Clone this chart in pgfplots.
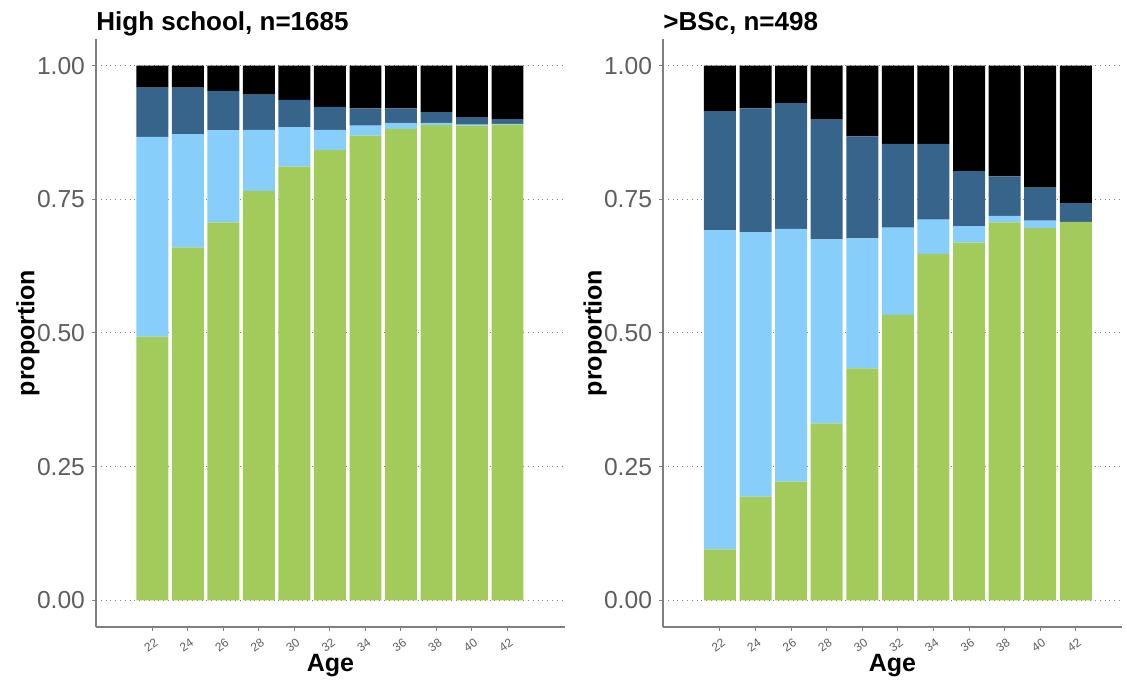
\documentclass[border=0pt]{standalone}
\usepackage{pgfplots}
\pgfplotsset{compat=1.18}
\usepackage{pgfplotstable}
\usepackage{fontspec}
\setmainfont{Liberation Sans}
\definecolor{cgreen}{HTML}{A2CB5C}
\definecolor{clblue}{HTML}{87CEFA}
\definecolor{cdblue}{HTML}{36648B}
\definecolor{caxis}{HTML}{7F7F7F}
\definecolor{clab}{HTML}{5E5E5E}

\pgfplotstableread{
age g lb db k
22 0.493 0.374 0.092 0.041
24 0.660 0.212 0.087 0.041
26 0.707 0.172 0.074 0.047
28 0.766 0.114 0.066 0.054
30 0.811 0.074 0.051 0.064
32 0.842 0.038 0.043 0.077
34 0.869 0.019 0.032 0.080
36 0.882 0.011 0.027 0.080
38 0.889 0.004 0.020 0.087
40 0.888 0.002 0.013 0.097
42 0.890 0.001 0.009 0.100
}\hs

\pgfplotstableread{
age g lb db k
22 0.095 0.597 0.223 0.085
24 0.194 0.494 0.232 0.080
26 0.222 0.473 0.235 0.070
28 0.331 0.344 0.224 0.101
30 0.434 0.243 0.191 0.132
32 0.534 0.163 0.157 0.146
34 0.648 0.064 0.142 0.146
36 0.669 0.031 0.103 0.197
38 0.707 0.012 0.074 0.207
40 0.696 0.014 0.062 0.228
42 0.708 0.000 0.035 0.257
}\bsc

\pgfplotsset{
  panel/.style={
    scale only axis,
    anchor=south west,
    height=294pt,
    ymin=-0.05, ymax=1.05,
    ybar stacked,
    bar width=1.8,
    axis x line*=bottom,
    axis y line*=left,
    axis line style={draw=caxis, line width=0.65pt, -},
    tick style={draw=caxis, line width=0.5pt},
    tick align=outside,
    major tick length=2pt,
    xtick={22,24,...,42},
    ytick={0,0.25,0.5,0.75,1},
    yticklabels={0.00,0.25,0.50,0.75,1.00},
    /pgf/number format/assume math mode=true,
    yticklabel style={font=\fontsize{12.3}{14}\selectfont, text=clab},
    xticklabel style={font=\fontsize{6}{7}\selectfont, text=clab, yshift=-7pt, xshift=-0.8pt, rotate=35, anchor=center},
    ymajorgrids,
    major grid style={dotted, draw=gray, line width=0.5pt},
    xlabel={Age},
    ylabel={proportion},
    label style={font=\fontsize{12.5}{14}\selectfont\bfseries},
    xlabel style={at={(axis description cs:0.5,-0.066)}, anchor=center},
    title style={at={(axis description cs:0,1)}, anchor=base west, yshift=-2pt, inner sep=0pt,
      font=\fontsize{13}{15}\selectfont\bfseries},
    every axis plot/.append style={draw=none},
  }
}

\begin{document}
\begin{tikzpicture}
\path[use as bounding box] (0,0) rectangle (563.5pt,341.5pt);

\begin{axis}[panel, at={(48pt,28pt)}, width=234.5pt,
  xmin=18.82, xmax=45.24,
  title={High school, n=1685},
  ylabel style={at={(axis description cs:-0.145,0.5)}, anchor=center}]
\addplot[fill=cgreen] table[x=age,y=g]{\hs};
\addplot[fill=clblue] table[x=age,y=lb]{\hs};
\addplot[fill=cdblue] table[x=age,y=db]{\hs};
\addplot[fill=black] table[x=age,y=k]{\hs};
\end{axis}

\begin{axis}[panel, at={(331.5pt,28pt)}, width=229.5pt,
  xmin=18.8, xmax=44.6,
  title={>BSc, n=498},
  ylabel style={at={(axis description cs:-0.148,0.5)}, anchor=center}]
\addplot[fill=cgreen] table[x=age,y=g]{\bsc};
\addplot[fill=clblue] table[x=age,y=lb]{\bsc};
\addplot[fill=cdblue] table[x=age,y=db]{\bsc};
\addplot[fill=black] table[x=age,y=k]{\bsc};
\end{axis}
\end{tikzpicture}
\end{document}
